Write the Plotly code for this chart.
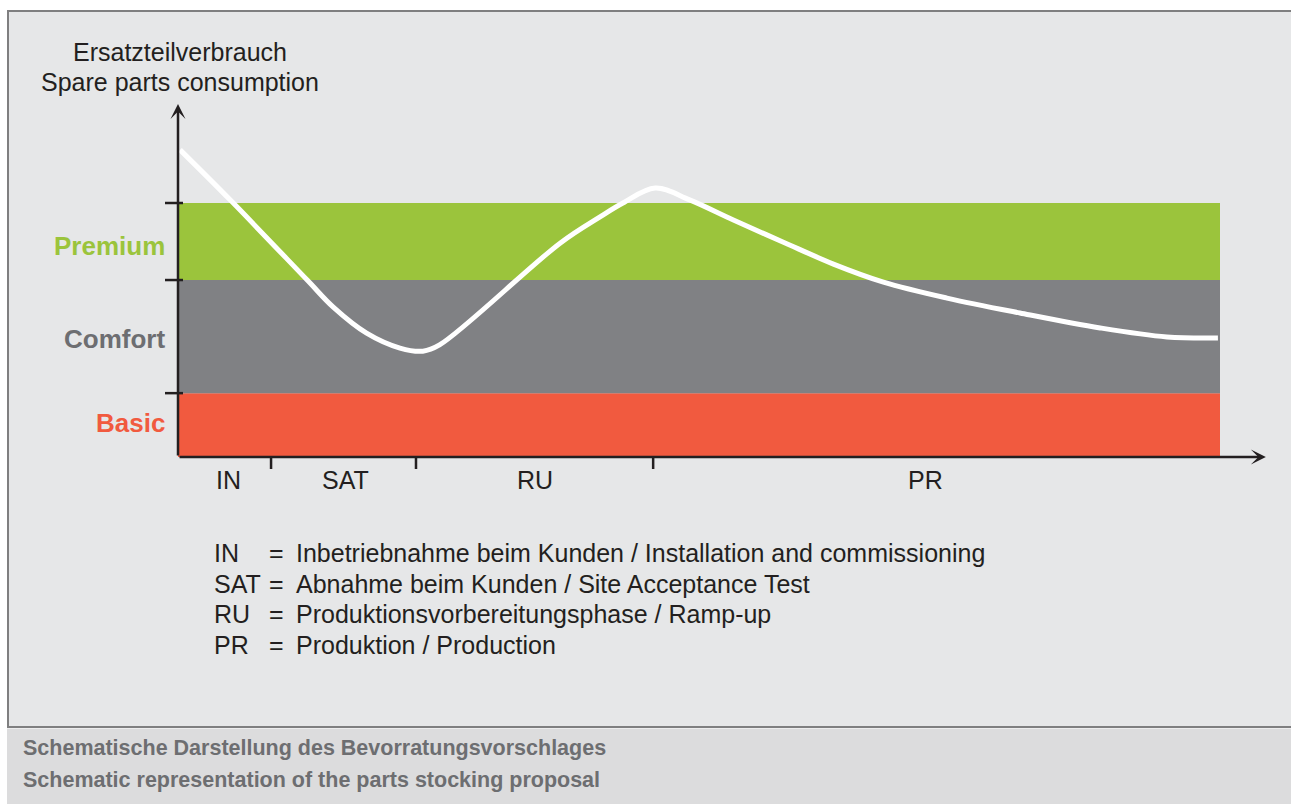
import plotly.graph_objects as go

# ---------------- data ----------------
band_names = ["Basic", "Comfort", "Premium"]
band_lower = [0.0, 18.4, 51.0]
band_upper = [18.4, 51.0, 73.2]
band_colors = ["#f15a3f", "#808184", "#9bc43c"]
label_colors = ["#f15a3f", "#6d6e71", "#9bc43c"]
band_start = 0.0
band_end = 100.0

phase_names = ["IN", "SAT", "RU", "PR"]
phase_bounds = [8.93, 22.84, 45.6]
phase_label_x = [4.8, 16.1, 34.3, 71.7]

time = [0.2, 5.0, 12.4, 14.9, 18.1, 21.3, 23.5, 25.1, 36.7, 40.5, 42.7,
        45.8, 49.1, 53.3, 58.1, 62.9, 67.7, 73.8, 80.8, 88.5, 94.9, 99.8]
consumption = [88.5, 74.1, 51.0, 43.2, 35.7, 31.4, 30.5, 32.3, 61.7, 69.2, 73.2,
               77.5, 74.1, 68.3, 61.9, 55.6, 50.4, 45.8, 41.5, 37.2, 34.6, 34.3]

x_arrow_end = 104.4
y_arrow_end = 101.7

y_title = ["Ersatzteilverbrauch", "Spare parts consumption"]
legend_abbr = ["IN", "SAT", "RU", "PR"]
legend_text = ["Inbetriebnahme beim Kunden / Installation and commissioning",
               "Abnahme beim Kunden / Site Acceptance Test",
               "Produktionsvorbereitungsphase / Ramp-up",
               "Produktion / Production"]
footer = ["Schematische Darstellung des Bevorratungsvorschlages",
          "Schematic representation of the parts stocking proposal"]

# ---------------- layout helpers ----------------
W, H = 1291, 804
X0PX, XSC = 178.0, 10.42   # pixel of x=0, px per unit
Y0PX, YSC = 457.0, 3.47    # pixel of y=0, px per unit
def px(x): return x / W
def py(y): return 1 - y / H

FONT = "Liberation Sans, Arial, Helvetica, sans-serif"
DARK = "#231f20"
TXT = 25

fig = go.Figure()

# bands
for lo, hi, c, n in zip(band_lower, band_upper, band_colors, band_names):
    fig.add_trace(go.Scatter(
        x=[band_start, band_end, band_end, band_start, band_start],
        y=[lo, lo, hi, hi, lo], fill="toself", fillcolor=c,
        line=dict(width=0, color=c), mode="lines", name=n, hoverinfo="skip"))

# curve
fig.add_trace(go.Scatter(x=time, y=consumption, mode="lines",
                         line=dict(color="white", width=5, shape="spline", smoothing=1.0),
                         hoverinfo="skip", name="consumption"))

# x ticks
tx, ty = [], []
for b in phase_bounds:
    tx += [b, b, None]
    ty += [0, -12 / YSC, None]
fig.add_trace(go.Scatter(x=tx, y=ty, mode="lines", line=dict(color=DARK, width=2.5),
                         hoverinfo="skip"))
# y ticks
ux, uy = [], []
for b in band_upper:
    ux += [-13 / XSC, 5 / XSC, None]
    uy += [b, b, None]
fig.add_trace(go.Scatter(x=ux, y=uy, mode="lines", line=dict(color=DARK, width=2.5),
                         hoverinfo="skip"))

ann = []
# axis arrows
ann.append(dict(x=x_arrow_end, y=0, ax=0, ay=0, xref="x", yref="y", axref="x", ayref="y",
                text="", showarrow=True, arrowhead=3, arrowwidth=2.5, arrowsize=1,
                arrowcolor=DARK, standoff=0, startstandoff=0))
ann.append(dict(x=0, y=y_arrow_end, ax=0, ay=0, xref="x", yref="y", axref="x", ayref="y",
                text="", showarrow=True, arrowhead=3, arrowwidth=2.5, arrowsize=1,
                arrowcolor=DARK, standoff=0, startstandoff=0))

# band labels
label_dy = [0.6, -0.8, -1.2]
for lo, hi, n, c, d in zip(band_lower, band_upper, band_names, label_colors, label_dy):
    ann.append(dict(x=-11 / XSC, y=(lo + hi) / 2 + d, xref="x", yref="y", text=f"<b>{n}</b>",
                    showarrow=False, xanchor="right", yanchor="middle",
                    font=dict(family=FONT, size=26, color=c)))
# phase labels
for n, xp in zip(phase_names, phase_label_x):
    ann.append(dict(x=xp, y=-23 / YSC, xref="x", yref="y", text=n, showarrow=False,
                    xanchor="center", yanchor="middle",
                    font=dict(family=FONT, size=TXT, color=DARK)))
# y title
for t, yy in zip(y_title, [52, 82]):
    ann.append(dict(x=px(180), y=py(yy), xref="paper", yref="paper", text=t, showarrow=False,
                    xanchor="center", yanchor="middle",
                    font=dict(family=FONT, size=TXT, color=DARK)))
# legend lines
for i, (a, t) in enumerate(zip(legend_abbr, legend_text)):
    yy = 553 + i * 30.7
    ann.append(dict(x=px(212), y=py(yy), xref="paper", yref="paper", text=a, showarrow=False,
                    xanchor="left", yanchor="middle", font=dict(family=FONT, size=TXT, color=DARK)))
    ann.append(dict(x=px(267), y=py(yy), xref="paper", yref="paper", text="=", showarrow=False,
                    xanchor="left", yanchor="middle", font=dict(family=FONT, size=TXT, color=DARK)))
    ann.append(dict(x=px(294), y=py(yy), xref="paper", yref="paper", text=t, showarrow=False,
                    xanchor="left", yanchor="middle", font=dict(family=FONT, size=TXT, color=DARK)))
# footer
for t, yy in zip(footer, [748, 780]):
    ann.append(dict(x=px(21), y=py(yy), xref="paper", yref="paper", text=f"<b>{t}</b>",
                    showarrow=False, xanchor="left", yanchor="middle",
                    font=dict(family=FONT, size=21.5, color="#6d6e71")))

shapes = [
    dict(type="rect", xref="paper", yref="paper", x0=px(8), x1=1.02, y0=py(727), y1=py(11),
         fillcolor="#e6e7e8", line=dict(color="#7f7f80", width=2), layer="below"),
    dict(type="rect", xref="paper", yref="paper", x0=px(7), x1=1.02, y0=-0.02, y1=py(728.5),
         fillcolor="#dcdcdd", line=dict(width=0), layer="below"),
]

fig.update_layout(
    width=W, height=H, margin=dict(l=0, r=0, t=0, b=0),
    paper_bgcolor="white", plot_bgcolor="rgba(0,0,0,0)",
    showlegend=False, annotations=ann, shapes=shapes,
    xaxis=dict(range=[(0 - X0PX) / XSC, (W - X0PX) / XSC], visible=False, fixedrange=True),
    yaxis=dict(range=[(Y0PX - H) / YSC, Y0PX / YSC], visible=False, fixedrange=True),
)

fig.write_html("out.html", config={"displayModeBar": False, "staticPlot": True},
               post_script="document.body.style.margin='0';document.body.style.overflow='hidden';")
